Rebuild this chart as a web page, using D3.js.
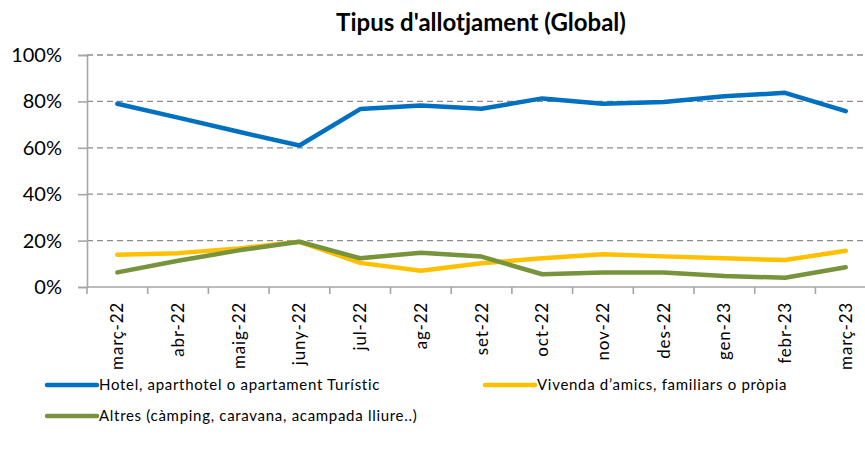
<!DOCTYPE html>
<html>
<head>
<meta charset="utf-8">
<script src="https://cdn.jsdelivr.net/npm/d3@7"></script>
<style>
  body { margin: 0; background: #fff; }
  svg { display: block; font-family: Lato, "Open Sans", sans-serif; }
</style>
</head>
<body>
<div id="chart"></div>
<script>
// months on the x axis
var months = ["març-22", "abr-22", "maig-22", "juny-22", "jul-22", "ag-22", "set-22",
              "oct-22", "nov-22", "des-22", "gen-23", "febr-23", "març-23"];

// shares in %
var hotel   = [79.0, 73.0, 66.9, 61.0, 76.7, 78.2, 76.8, 81.3, 79.0, 79.7, 82.2, 83.7, 75.8];
var vivenda = [13.9, 14.6, 16.6, 19.5, 10.4, 7.0, 10.2, 12.4, 14.1, 13.2, 12.4, 11.6, 15.6];
var altres  = [6.3, 11.3, 15.8, 19.5, 12.4, 14.8, 13.1, 5.5, 6.2, 6.2, 4.7, 4.0, 8.5];

var yTicks = [0, 20, 40, 60, 80, 100];
var seriesNames = ["Hotel, aparthotel o apartament Turístic",
                   "Vivenda d’amics, familiars o pròpia",
                   "Altres (càmping, caravana, acampada lliure..)"];

var series = [
  {name: seriesNames[0], values: hotel, color: "#0070C0"},
  {name: seriesNames[1], values: vivenda, color: "#FFC000"},
  {name: seriesNames[2], values: altres, color: "#77933C"}
];

var width = 865, height = 454;
var margin = {top: 55, left: 87, bottom: 167};

var svg = d3.select("#chart").append("svg")
    .attr("width", width)
    .attr("height", height);

// the plot runs past the right edge, like the original crop
var x = d3.scaleBand().domain(months).range([margin.left, margin.left + 13 * 60.7]);
var y = d3.scaleLinear().domain([0, 100]).range([height - margin.bottom, margin.top]);

// gridlines
svg.append("g").selectAll("line")
    .data(yTicks.filter(function(d) { return d > 0; }))
  .enter().append("line")
    .attr("x1", margin.left).attr("x2", width)
    .attr("y1", function(d) { return y(d); })
    .attr("y2", function(d) { return y(d); })
    .attr("stroke", "#8c8c8c")
    .attr("stroke-width", 1.3)
    .attr("stroke-dasharray", "6,4");

// y axis
var yAxis = svg.append("g")
    .attr("transform", "translate(" + margin.left + ",0)")
    .call(d3.axisLeft(y).tickValues(yTicks).tickSize(9).tickPadding(16)
      .tickFormat(function(d) { return d + "%"; }));
yAxis.select(".domain").attr("stroke", "#a6a6a6").attr("stroke-width", 1.6);
yAxis.selectAll(".tick line").attr("stroke", "#a6a6a6").attr("stroke-width", 1.6);
yAxis.selectAll("text")
    .attr("font-family", "Lato, sans-serif")
    .attr("font-size", 20)
    .attr("fill", "#000");

// x axis: ticks between the categories
var xAxis = svg.append("g")
    .attr("transform", "translate(0," + y(0) + ")");
xAxis.append("line")
    .attr("x1", margin.left).attr("x2", width)
    .attr("stroke", "#a6a6a6").attr("stroke-width", 1.6);
xAxis.selectAll(".tk")
    .data(months)
  .enter().append("line")
    .attr("class", "tk")
    .attr("x1", function(d) { return x(d); })
    .attr("x2", function(d) { return x(d); })
    .attr("y2", 7)
    .attr("stroke", "#a6a6a6").attr("stroke-width", 1.6);
xAxis.selectAll("text")
    .data(months)
  .enter().append("text")
    .attr("transform", function(d) {
      return "translate(" + (x(d) + x.bandwidth() / 2) + ",15) rotate(-90)";
    })
    .attr("dy", "0.35em")
    .attr("text-anchor", "end")
    .attr("font-size", 17)
    .attr("letter-spacing", 0.8)
    .attr("fill", "#000")
    .text(function(d) { return d; });

// lines
var line = d3.line()
    .x(function(d, i) { return x(months[i]) + x.bandwidth() / 2; })
    .y(function(d) { return y(d); });

svg.append("g").selectAll("path")
    .data(series)
  .enter().append("path")
    .attr("d", function(s) { return line(s.values); })
    .attr("fill", "none")
    .attr("stroke", function(s) { return s.color; })
    .attr("stroke-width", 4.5)
    .attr("stroke-linejoin", "round")
    .attr("stroke-linecap", "round");

// title
svg.append("text")
    .attr("x", 481).attr("y", 31)
    .attr("text-anchor", "middle")
    .attr("font-size", 24)
    .attr("font-weight", "bold")
    .text("Tipus d'allotjament (Global)");

// legend
var legendPos = [[47, 385], [485, 385], [47, 416]];
var legend = svg.append("g").selectAll("g")
    .data(series)
  .enter().append("g")
    .attr("transform", function(d, i) { return "translate(" + legendPos[i][0] + "," + legendPos[i][1] + ")"; });
legend.append("line")
    .attr("x2", 50)
    .attr("stroke", function(d) { return d.color; })
    .attr("stroke-width", 4.5)
    .attr("stroke-linecap", "round");
legend.append("text")
    .attr("x", 52)
    .attr("dy", "0.35em")
    .attr("font-size", 15)
    .attr("letter-spacing", 0.7)
    .text(function(d) { return d.name; });
</script>
</body>
</html>
